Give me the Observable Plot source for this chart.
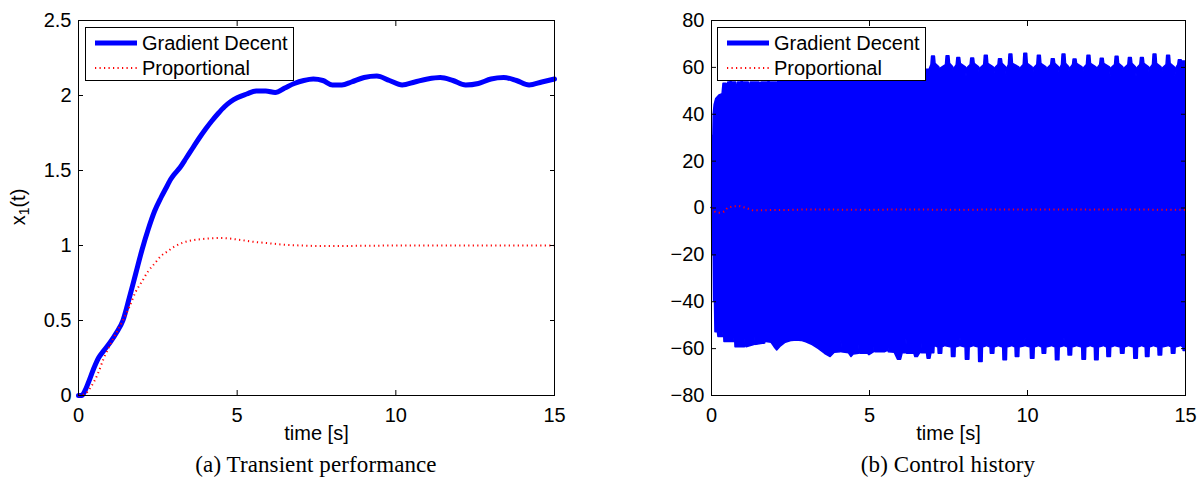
<!DOCTYPE html>
<html>
<head>
<meta charset="utf-8">
<script src="https://cdn.jsdelivr.net/npm/d3@7"></script>
<script src="https://cdn.jsdelivr.net/npm/@observablehq/plot@0.6"></script>
<style>
  body { margin: 0; background: #fff; }
  #wrap { position: relative; width: 1198px; height: 484px; overflow: hidden; background: #fff;
          font-family: "Liberation Sans", Arial, sans-serif; color: #000; }
  .panel { position: absolute; top: 0; }
  .legend { position: absolute; background: #fff; border: 1px solid #000; width: 209px; height: 54px; font-size: 20px; box-sizing: border-box; }
  .legend .row { position: absolute; left: 0; height: 20px; line-height: 20px; white-space: nowrap; }
  .legend svg { position: absolute; left: 9px; top: 0; }
  .legend span { position: absolute; left: 56px; top: 0; }
  .caption { position: absolute; top: 452px; font-family: "Liberation Serif", "Times New Roman", serif; font-size: 23px;
             letter-spacing: 0.1px; line-height: 26px; white-space: nowrap; transform: translateX(-50%); }
  .ylab { position: absolute; font-size: 20px; white-space: nowrap; line-height: 20px;
          transform: translate(-50%, -50%) rotate(-90deg); }
  .ylab sub { font-size: 14px; vertical-align: -4px; }
</style>
</head>
<body>
<div id="wrap"></div>
<script>
// ---------- data ----------
const seriesNames = ["Gradient Decent", "Proportional"];
const xTicks = [0, 5, 10, 15];
const yTicksLeft = [0, 0.5, 1, 1.5, 2, 2.5];
const yTicksRight = [-80, -60, -40, -20, 0, 20, 40, 60, 80];

// (a) x1(t), Gradient Decent  [t, x1]
const gradientX1 = [
  [0,0],[0.1,0],[0.2,0.03],[0.3,0.08],[0.5,0.19],[0.63,0.25],[0.8,0.3],[1.0,0.355],[1.2,0.42],[1.4,0.5],
  [1.6,0.65],[1.8,0.81],[2.0,0.97],[2.2,1.11],[2.4,1.23],[2.6,1.32],[2.8,1.40],[2.9,1.44],[3.0,1.47],
  [3.2,1.52],[3.4,1.585],[3.6,1.65],[3.8,1.715],[4.0,1.775],[4.2,1.83],[4.4,1.88],[4.6,1.925],[4.8,1.96],
  [5.0,1.985],[5.3,2.01],[5.6,2.03],[5.9,2.03],[6.2,2.02],[6.5,2.05],[6.8,2.08],[7.1,2.10],[7.4,2.11],
  [7.7,2.10],[8.0,2.07],[8.3,2.07],[8.6,2.09],[9.0,2.12],[9.4,2.13],[9.8,2.10],[10.2,2.07],[10.6,2.09],
  [11.0,2.11],[11.4,2.12],[11.8,2.10],[12.2,2.07],[12.6,2.08],[13.0,2.11],[13.4,2.12],[13.8,2.10],
  [14.2,2.07],[14.6,2.09],[15,2.11]
];
// (a) x1(t), Proportional  [t, x1]
const proportionalX1 = [
  [0,0],[0.2,0.01],[0.4,0.06],[0.6,0.14],[0.8,0.25],[1.0,0.34],[1.2,0.42],[1.4,0.5],[1.6,0.59],[1.8,0.69],
  [2.0,0.76],[2.2,0.83],[2.4,0.88],[2.6,0.93],[2.8,0.96],[3.0,0.99],[3.3,1.02],[3.6,1.035],[4.0,1.045],
  [4.5,1.05],[5.0,1.04],[5.5,1.025],[6.0,1.015],[6.5,1.005],[7.0,1.0],[7.5,0.997],[8,0.997],[9,0.998],
  [10,1.0],[11,1.0],[12,1.0],[13,1.0],[14,1.0],[15,1.0]
];
// (b) control, Gradient Decent: upper envelope of the oscillation [t, u]
const gradientUpper = [
  [0,0],[0.02,0],[0.025,30],[0.06,31],[0.07,40],[0.1,44],[0.15,46.5],[0.25,48],[0.35,48.5],[0.38,53],
  [0.48,53],[0.5,49.4],[0.53,53.5],[0.6,53.5],[0.62,56],[0.64,53.5],[0.78,53.5],[0.81,49],[0.84,53.5],
  [0.95,53.5],[0.97,56],[0.99,53.5],[1.18,53.5],[1.21,50],[1.24,53.5],[1.52,53.5],
  [1.55,52.5],[1.58,53.5],[1.8,53.5],[1.82,56],[1.84,53.5],[2.07,53.5],[2.1,52.2],[2.13,58],[2.6,57],[3.2,57],[3.8,59],[4.5,60],[5.2,60],[6.0,60],
  [6.8,59],[6.9,59],[6.96,61],[6.98,64.6],[7.07,64.6],[7.09,61.5],[7.21,60],[7.23,56],[7.25,59.5],
  [7.42,61],[7.44,64.7],[7.53,64.7],[7.55,61.5],[7.65,60],[7.67,56],[7.69,59.5],
  [7.76,61],[7.78,64.0],[7.87,64.0],[7.89,61.5],[8.05,60],[8.07,56],[8.09,59.5],
  [8.2,61],[8.22,63.8],[8.31,63.8],[8.33,61.5],[8.47,60],[8.49,56],[8.51,59.5],
  [8.63,61],[8.65,65.0],[8.74,65.0],[8.76,61.5],[8.93,60],[8.95,56],[8.97,59.5],
  [9.08,61],[9.1,63.5],[9.19,63.5],[9.21,61.5],[9.32,60],[9.34,56],[9.36,59.5],
  [9.41,61],[9.43,65.5],[9.52,65.5],[9.54,61.5],[9.74,60],[9.76,56],[9.78,59.5],
  [9.88,61],[9.9,65.8],[9.99,65.8],[10.01,61.5],[10.16,60],[10.18,56],[10.2,59.5],
  [10.31,61],[10.33,65.0],[10.42,65.0],[10.44,61.5],[10.6,60],[10.62,56],[10.64,59.5],
  [10.75,61],[10.77,63.5],[10.86,63.5],[10.88,61.5],[11.0,60],[11.02,56],[11.04,59.5],
  [11.09,61],[11.11,65.5],[11.2,65.5],[11.22,61.5],[11.32,60],[11.34,56],[11.36,59.5],
  [11.44,61],[11.46,63.4],[11.55,63.4],[11.57,61.5],[11.74,60],[11.76,56],[11.78,59.5],
  [11.88,61],[11.9,65.0],[11.99,65.0],[12.01,61.5],[12.18,60],[12.2,56],[12.22,59.5],
  [12.3,61],[12.32,63.7],[12.41,63.7],[12.43,61.5],[12.61,60],[12.63,56],[12.65,59.5],
  [12.77,61],[12.79,64.5],[12.88,64.5],[12.9,61.5],[13.03,60],[13.05,56],[13.07,59.5],
  [13.19,61],[13.21,64.0],[13.3,64.0],[13.32,61.5],[13.43,60],[13.45,56],[13.47,59.5],
  [13.57,61],[13.59,64.0],[13.68,64.0],[13.7,61.5],[13.85,60],[13.87,56],[13.89,59.5],
  [13.97,61],[13.99,65.5],[14.08,65.5],[14.1,61.5],[14.24,60],[14.26,56],[14.28,59.5],
  [14.4,61],[14.42,65.0],[14.51,65.0],[14.53,61.5],[14.66,60],[14.68,56],[14.7,59.5],
  [14.77,61],[14.79,63.0],[14.88,63.0],[14.9,62.5],[15,62.5]
];
// (b) control, Gradient Decent: lower envelope of the oscillation [t, u]
const gradientLower = [
  [0,0],[0.02,0],[0.025,-20],[0.07,-20],[0.08,-40],[0.11,-40],[0.125,-53],[0.2,-53],[0.22,-55],[0.37,-55],
  [0.39,-50.6],[0.41,-57.2],[0.72,-57.2],[0.74,-53],[0.76,-59.4],[1.06,-59.4],[1.086,-54],[1.11,-59.4],
  [1.38,-58.4],[1.40,-53],[1.42,-58.4],[1.7,-57.8],[1.72,-54.5],[1.74,-57.2],[1.9,-57.5],[2.0,-59.5],
  [2.08,-60.8],[2.2,-59],[2.35,-57.5],[2.55,-56.7],[2.7,-56.5],[2.85,-56.7],[3.0,-57.3],[3.2,-58.5],
  [3.4,-60.2],[3.6,-62.3],[3.77,-63.6],[3.9,-61.8],[4.09,-61.5],[4.11,-56.5],[4.13,-61.6],[4.35,-62],
  [4.43,-63.6],[4.5,-62.5],[4.67,-62.2],[4.69,-56.5],[4.71,-62.2],[4.95,-62.2],[5.0,-62.8],[5.15,-61.5],
  [5.17,-56],[5.19,-61.5],[5.5,-61.5],[5.57,-61],[5.59,-57],[5.61,-61.5],[5.8,-61.8],[5.9,-64.7],[6.0,-64.7],
  [6.05,-62],[6.15,-62],[6.17,-55.8],[6.19,-62.2],[6.42,-62.2],[6.45,-63.6],[6.53,-63.6],[6.6,-62],
  [6.62,-62],[6.64,-56],[6.66,-62],[6.82,-62],[6.84,-64.3],[6.93,-64.3],[6.96,-62],[7.05,-62],[7.07,-56.5],
  [7.09,-59],
  [7.18,-59.5],[7.19,-62.2],[7.3,-62.2],[7.31,-59.5],[7.38,-59],[7.4,-55.5],[7.42,-59],
  [7.6,-59.5],[7.61,-63.6],[7.72,-63.6],[7.73,-59.5],[7.86,-59],[7.88,-55.5],[7.9,-59],
  [8.04,-59.5],[8.05,-64.7],[8.16,-64.7],[8.17,-59.5],[8.28,-59],[8.3,-55.5],[8.32,-59],
  [8.46,-59.5],[8.47,-65.7],[8.58,-65.7],[8.59,-59.5],[8.7,-59],[8.72,-55.5],[8.74,-59],
  [8.83,-59.5],[8.84,-62.2],[8.95,-62.2],[8.96,-59.5],[9.07,-59],[9.09,-55.5],[9.11,-59],
  [9.23,-59.5],[9.24,-65],[9.35,-65],[9.36,-59.5],[9.5,-59],[9.52,-55.5],[9.54,-59],
  [9.62,-59.5],[9.63,-63.6],[9.74,-63.6],[9.75,-59.5],[9.92,-59],[9.94,-55.5],[9.96,-59],
  [10.1,-59.5],[10.11,-64.3],[10.22,-64.3],[10.23,-59.5],[10.34,-59],[10.36,-55.5],[10.38,-59],
  [10.47,-59.5],[10.48,-62.2],[10.59,-62.2],[10.6,-59.5],[10.76,-59],[10.78,-55.5],[10.8,-59],
  [10.89,-59.5],[10.9,-65],[11.01,-65],[11.02,-59.5],[11.15,-59],[11.17,-55.5],[11.19,-59],
  [11.29,-59.5],[11.3,-62.9],[11.41,-62.9],[11.42,-59.5],[11.55,-59],[11.57,-55.5],[11.59,-59],
  [11.73,-59.5],[11.74,-64.7],[11.85,-64.7],[11.86,-59.5],[11.98,-59],[12.0,-55.5],[12.02,-59],
  [12.13,-59.5],[12.14,-65],[12.25,-65],[12.26,-59.5],[12.4,-59],[12.42,-55.5],[12.44,-59],
  [12.52,-59.5],[12.53,-63.6],[12.64,-63.6],[12.65,-59.5],[12.76,-59],[12.78,-55.5],[12.8,-59],
  [12.95,-59.5],[12.96,-62.2],[13.07,-62.2],[13.08,-59.5],[13.19,-59],[13.21,-55.5],[13.23,-59],
  [13.37,-59.5],[13.38,-64.3],[13.49,-64.3],[13.5,-59.5],[13.61,-59],[13.63,-55.5],[13.65,-59],
  [13.74,-59.5],[13.75,-63.6],[13.86,-63.6],[13.87,-59.5],[13.98,-59],[14.0,-55.5],[14.02,-59],
  [14.14,-59.5],[14.15,-62.9],[14.26,-62.9],[14.27,-59.5],[14.45,-59],[14.47,-55.5],[14.49,-59],
  [14.56,-59.5],[14.57,-62.2],[14.68,-62.2],[14.69,-59.5],[14.84,-59],[14.86,-55.5],[14.88,-59],
  [14.93,-59.5],[14.94,-61],[15,-61]
];
// (b) control, Proportional [t, u]
const proportionalU = [
  [0,0],[0.05,-0.5],[0.1,-1.5],[0.2,-2],[0.3,-2],[0.4,-1.5],[0.5,0],[0.7,0.8],[0.9,0.8],[1.1,0],[1.3,-1],
  [1.6,-1],[2,-0.8],[2.5,-0.8],[3,-0.6],[4,-0.7],[5,-0.8],[6,-0.6],[7,-0.7],[8,-0.8],[9,-0.6],[10,-0.7],
  [11,-0.6],[12,-0.7],[13,-0.6],[14,-0.7],[15,-0.8]
];

// ---------- styling ----------
const BLUE = "#0000ff", RED = "#ff0000";
const FONT = "'Liberation Sans', Arial, sans-serif";
const fmt = d3.format("~g");
const T = d => d[0], V = d => d[1];

function frameAxes(yTicks, xLabel) {
  return [
    Plot.axisX({ticks: xTicks, tickSize: 0, tickPadding: 12, tickFormat: fmt,
                label: xLabel, labelAnchor: "center", labelArrow: "none", labelOffset: 44}),
    Plot.axisX({ticks: xTicks, anchor: "bottom", tickSize: -5, tickFormat: () => "", label: null}),
    Plot.axisX({ticks: xTicks, anchor: "top", tickSize: -5, tickFormat: () => "", label: null}),
    Plot.axisY({ticks: yTicks, tickSize: 0, tickPadding: 7, tickFormat: fmt, label: null}),
    Plot.axisY({ticks: yTicks, anchor: "left", tickSize: -5, tickFormat: () => "", label: null}),
    Plot.axisY({ticks: yTicks, anchor: "right", tickSize: -5, tickFormat: () => "", label: null}),
    Plot.frame({stroke: "#000", strokeWidth: 1})
  ];
}

const common = {
  width: 599, height: 445, marginTop: 20, marginBottom: 50,
  style: {fontFamily: FONT, fontSize: "20px", color: "#000", background: "transparent", overflow: "visible"}
};

const left = Plot.plot({
  ...common, marginLeft: 78, marginRight: 45,
  x: {domain: [0, 15]},
  y: {domain: [0, 2.5]},
  marks: [
    Plot.line(gradientX1, {x: T, y: V, stroke: BLUE, strokeWidth: 5, curve: "monotone-x"}),
    Plot.line(proportionalX1, {x: T, y: V, stroke: RED, strokeWidth: 2, curve: "monotone-x", strokeLinecap: "butt", strokeDasharray: "1.2,3.3"}),
    ...frameAxes(yTicksLeft, "time [s]")
  ]
});

const right = Plot.plot({
  ...common, marginLeft: 112, marginRight: 13,
  x: {domain: [0, 15]},
  y: {domain: [-80, 80]},
  marks: [
    Plot.areaY(gradientUpper, {x: T, y: V, fill: BLUE, stroke: BLUE, strokeWidth: 1.5}),
    Plot.areaY(gradientLower, {x: T, y: V, fill: BLUE, stroke: BLUE, strokeWidth: 1.5}),
    Plot.line(proportionalU, {x: T, y: V, stroke: RED, strokeWidth: 2, strokeLinecap: "butt", strokeDasharray: "1.2,3.3"}),
    ...frameAxes(yTicksRight, "time [s]")
  ]
});

const wrap = document.getElementById("wrap");
left.classList.add("panel"); left.style.left = "0px";
right.classList.add("panel"); right.style.left = "599px";
wrap.appendChild(left);
wrap.appendChild(right);

function legend(x, y) {
  const box = document.createElement("div");
  box.className = "legend";
  box.style.left = x + "px"; box.style.top = y + "px";
  box.innerHTML = `
    <div class="row" style="top:5px">
      <svg width="42" height="20"><line x1="0" x2="42" y1="10" y2="10" stroke="${BLUE}" stroke-width="5"/></svg>
      <span>${seriesNames[0]}</span></div>
    <div class="row" style="top:30px">
      <svg width="42" height="20"><line x1="0" x2="42" y1="10" y2="10" stroke="${RED}" stroke-width="2" stroke-dasharray="1.2,3.3"/></svg>
      <span>${seriesNames[1]}</span></div>`;
  wrap.appendChild(box);
}
legend(85, 27);
legend(717, 27);

const yl = document.createElement("div");
yl.className = "ylab"; yl.style.left = "21px"; yl.style.top = "207px";
yl.innerHTML = "x<sub>1</sub>(t)";
wrap.appendChild(yl);

function caption(text, cx) {
  const c = document.createElement("div");
  c.className = "caption"; c.style.left = cx + "px"; c.textContent = text;
  wrap.appendChild(c);
}
caption("(a) Transient performance", 316);
caption("(b) Control history", 948);
</script>
</body>
</html>
